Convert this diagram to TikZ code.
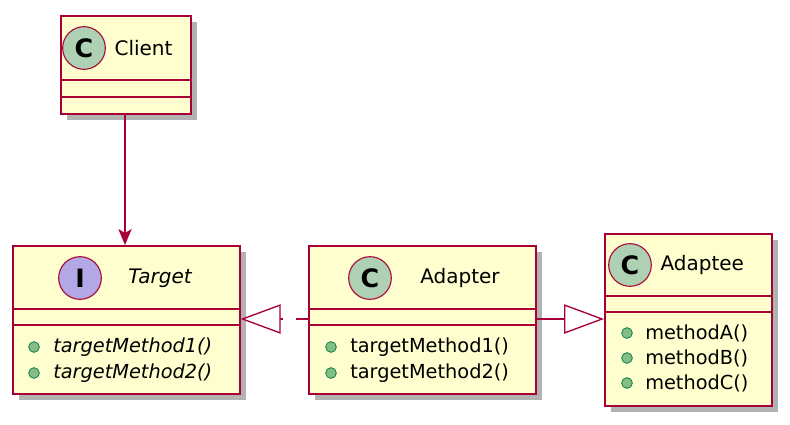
\documentclass[tikz,border=0pt]{standalone}
\usepackage{fontspec}
\setmainfont{DejaVu Sans}
\usetikzlibrary{positioning,shadows,arrows.meta}
\definecolor{umlfill}{HTML}{FEFECE}
\definecolor{umlline}{HTML}{A80036}
\definecolor{circC}{HTML}{ADD1B2}
\definecolor{circI}{HTML}{B4A7E5}
\definecolor{pubfill}{HTML}{84BE84}
\definecolor{publine}{HTML}{038048}
\tikzset{
  % Specifications for style of nodes:
  umlclass/.style = {
    rectangle,
    draw=umlline,
    line width=1.5pt,
    fill=umlfill,
    anchor=north west,
    inner sep=0pt,
    drop shadow={shadow xshift=4.5pt, shadow yshift=-4.5pt, opacity=0.3, fill=black}
  },
  stereo/.style = {
    circle,
    draw=umlline,
    line width=0.8pt,
    minimum size=32pt,
    inner sep=0pt,
    font=\fontsize{19}{19}\selectfont\bfseries
  },
  title/.style = {font=\fontsize{15}{15}\selectfont},
  member/.style = {anchor=west, inner sep=0pt, font=\fontsize{14.5}{15}\selectfont},
  pub/.style = {circle, draw=publine, fill=pubfill, line width=0.6pt,
    minimum size=8pt, inner sep=0pt},
  sep/.style = {draw=umlline, line width=1.5pt},
  link/.style = {draw=umlline, line width=1pt},
}
\begin{document}
\begin{tikzpicture}[x=0.75pt, y=-0.75pt]
    \useasboundingbox (0,0) rectangle (790,425);
    % Specification of boxes (position, etc.)
    \node[umlclass, minimum width=97.5pt, minimum height=73.5pt] (client)  at (60,15)  {};
    \node[umlclass, minimum width=170pt,  minimum height=111pt]  (target)  at (12,245) {};
    \node[umlclass, minimum width=170pt,  minimum height=111pt]  (adapter) at (308,245) {};
    \node[umlclass, minimum width=125pt,  minimum height=129pt]  (adaptee) at (604,233) {};
    % compartments
    \draw[sep] (60,80) -- (190,80) (60,97) -- (190,97);
    \draw[sep] (12,309) -- (239,309) (12,325) -- (239,325);
    \draw[sep] (308,309) -- (535,309) (308,325) -- (535,325);
    \draw[sep] (604,296) -- (771,296) (604,312) -- (771,312);
    % headers
    \node[stereo, fill=circC] (clientC)  at (84,48)   {C};
    \node[title, right=3pt of clientC] (clientT) {Client};
    \node[stereo, fill=circI] (targetI)  at (80,278)  {I};
    \node[title, font=\fontsize{15}{15}\selectfont\itshape] (targetT) at (160,278) {Target};
    \node[stereo, fill=circC] (adapterC) at (370,278) {C};
    \node[title] (adapterT) at (460,278) {Adapter};
    \node[stereo, fill=circC] (adapteeC) at (630,265) {C};
    \node[title, right=3pt of adapteeC] (adapteeT) {Adaptee};
    % members
    \foreach \y/\m [count=\i] in {347/targetMethod1(), 373/targetMethod2()} {
      \node[pub] (tp\i) at (34,\y) {};
      \node[member, font=\fontsize{14.5}{15}\selectfont\itshape] (tm\i) at (53,\y) {\m};
      \node[pub] (ap\i) at (331,\y) {};
      \node[member] (am\i) at (350,\y) {\m};
    }
    \foreach \y/\m [count=\i] in {333/methodA(), 358/methodB(), 383/methodC()} {
      \node[pub] (ep\i) at (627,\y) {};
      \node[member] (em\i) at (645,\y) {\m};
    }
    % relations
    \draw[link, -{Stealth[length=12pt, width=10pt, inset=3pt]}] (client.south -| 125,0) -- (target.north -| 125,0);
    \draw[link, dash pattern=on 9pt off 10pt, -{Triangle[open, length=30pt, width=22pt, fill=white]}]
      (adapter.west |- 0,319) -- (target.east |- 0,319);
    \draw[link, -{Triangle[open, length=30pt, width=22pt, fill=white]}]
      (adapter.east |- 0,319) -- (adaptee.west |- 0,319);
\end{tikzpicture}
\end{document}
